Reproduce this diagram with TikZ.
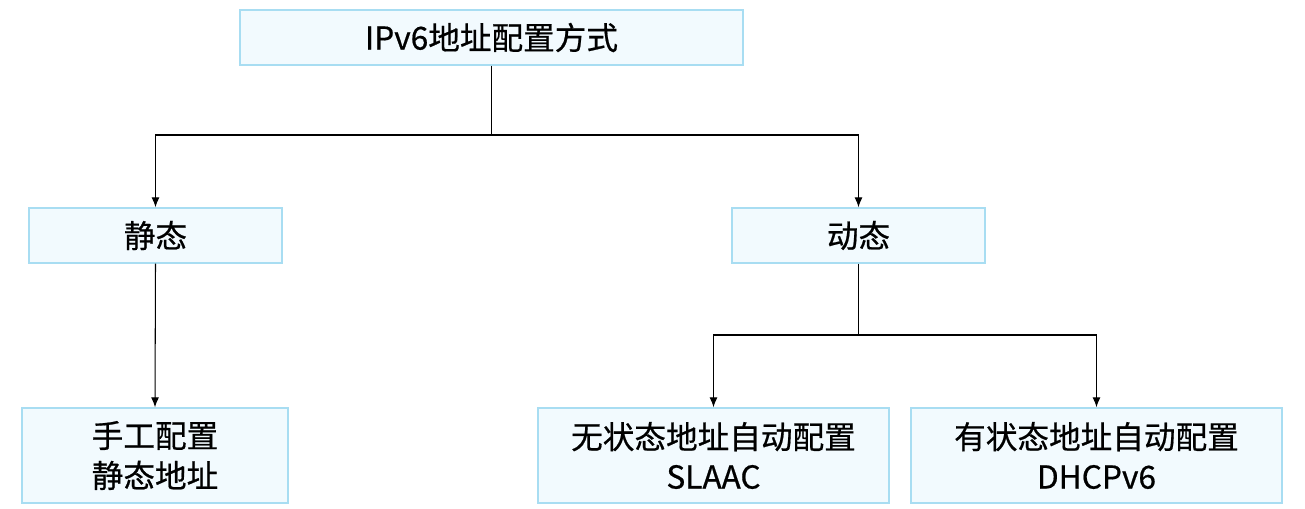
\documentclass[tikz,border=0pt]{standalone}
\usepackage{fontspec}
\setmainfont{Noto Sans CJK SC}[FakeBold=0.6]
\usetikzlibrary{arrows.meta, positioning}
\definecolor{boxfill}{HTML}{F2FAFE}
\definecolor{boxline}{HTML}{A8DDF2}
\begin{document}
\begin{tikzpicture}[
    x=0.02cm, y=-0.02cm,
    box/.style={rectangle, draw=boxline, fill=boxfill, thick, inner sep=0pt, font=\fontsize{18}{22.7}\selectfont, align=center},
    link/.style={-{Latex[length=2mm, width=1.6mm]}, semithick}
]
    \useasboundingbox (0,0) rectangle (1305,508);

    % nodes
    \node[box, minimum width=503*0.02cm, minimum height=55*0.02cm] (root) at (491.5,37.5) {IPv6地址配置方式};
    \node[box, minimum width=253*0.02cm, minimum height=55*0.02cm] (static) at (155.5,235.5) {静态};
    \node[box, minimum width=253*0.02cm, minimum height=55*0.02cm] (dynamic) at (858.5,235.5) {动态};
    \node[box, minimum width=266*0.02cm, minimum height=95*0.02cm] (manual) at (155,455.5) {手工配置\\静态地址};
    \node[box, minimum width=351*0.02cm, minimum height=95*0.02cm] (slaac) at (713.5,455.5) {无状态地址自动配置\\SLAAC};
    \node[box, minimum width=371*0.02cm, minimum height=95*0.02cm] (dhcp) at (1096.5,455.5) {有状态地址自动配置\\DHCPv6};

    % connectors
    \coordinate (j1) at (491.5,135);
    \coordinate (j2) at (858.5,335);
    \draw[semithick] (root.south) -- (j1);
    \draw[link] (j1) -| (static.north);
    \draw[link] (j1) -| (dynamic.north);
    \draw[link] (static.south) -- (manual.north);
    \draw[semithick] (dynamic.south) -- (j2);
    \draw[link] (j2) -| (slaac.north);
    \draw[link] (j2) -| (dhcp.north);

\end{tikzpicture}
\end{document}
